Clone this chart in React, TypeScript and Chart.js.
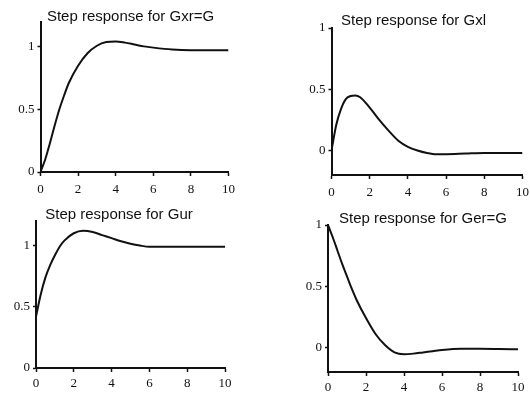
import React, { useEffect, useRef } from 'react';
import { Chart, registerables } from 'chart.js';

Chart.register(...registerables);

// ---- data ----
const timeAxis = [0, 0.25, 0.5, 0.75, 1, 1.25, 1.5, 2, 2.5, 3, 3.5, 4, 4.5, 5, 5.5, 6, 7, 8, 9, 10];
const gxrValues = [0, 0.1, 0.23, 0.37, 0.5, 0.61, 0.71, 0.85, 0.95, 1.01, 1.04, 1.045, 1.035, 1.02, 1.005, 0.995, 0.98, 0.975, 0.975, 0.975];
const gxlValues = [0, 0.21, 0.34, 0.42, 0.445, 0.45, 0.435, 0.35, 0.25, 0.16, 0.08, 0.03, 0.0, -0.02, -0.03, -0.03, -0.025, -0.02, -0.02, -0.02];
const gurValues = [0.42, 0.6, 0.74, 0.84, 0.92, 0.99, 1.04, 1.1, 1.12, 1.11, 1.085, 1.06, 1.035, 1.015, 1.0, 0.99, 0.99, 0.99, 0.99, 0.99];
const gerValues = [1, 0.9, 0.79, 0.68, 0.58, 0.48, 0.39, 0.24, 0.11, 0.02, -0.04, -0.055, -0.05, -0.04, -0.03, -0.02, -0.01, -0.01, -0.012, -0.015];

const xTickValues = [0, 2, 4, 6, 8, 10];
const yTickValues = [0, 0.5, 1];

const titleGxr = 'Step response for Gxr=G';
const titleGxl = 'Step response for Gxl';
const titleGur = 'Step response for Gur';
const titleGer = 'Step response for Ger=G';

// ---- layout (page coordinates) ----
type PanelCfg = {
  title: string;
  values: number[];
  yMin: number;
  yMax: number;
  top: number; bottom: number;
  L: number; R: number; T: number; B: number;
  tx: number; ty: number;
  xPad: number; xLh: number;
  fullTitle: boolean;
};

const panels: PanelCfg[] = [
  { title: titleGxr, values: gxrValues, yMin: 0, yMax: 1.2, top: 0, bottom: 200, L: 40, R: 228, T: 22, B: 172, tx: 130, ty: 16.5, xPad: 8, xLh: 11, fullTitle: true },
  { title: titleGxl, values: gxlValues, yMin: -0.2, yMax: 1, top: 0, bottom: 200, L: 331, R: 522, T: 28, B: 175, tx: 413, ty: 21, xPad: 7, xLh: 13, fullTitle: true },
  { title: titleGur, values: gurValues, yMin: 0, yMax: 1.2, top: 200, bottom: 397, L: 36, R: 225, T: 221, B: 368, tx: 119, ty: 214.5, xPad: 5.5, xLh: 13, fullTitle: true },
  { title: titleGer, values: gerValues, yMin: -0.2, yMax: 1, top: 200, bottom: 397, L: 328, R: 518, T: 225, B: 372, tx: 423, ty: 219, xPad: 5, xLh: 13, fullTitle: false },
];

const TITLE_LH = 12;
const TICK_FONT = 13;

function Panel({ cfg }: { cfg: PanelCfg }) {
  const ref = useRef<HTMLCanvasElement | null>(null);

  // geometry
  let cl: number, W: number, padR: number;
  if (cfg.fullTitle) {
    const rb = TICK_FONT / 2 + cfg.xPad; // right overflow created by the last x label
    cl = 2 * cfg.tx - cfg.R - rb;
    W = cfg.R + rb - cl;
    padR = 0;
  } else {
    cl = cfg.L - 26;
    padR = 14;
    W = cfg.R + padR - cl;
  }
  const H = cfg.bottom - cfg.top;

  useEffect(() => {
    if (!ref.current) return;
    const Lc = cfg.L - cl;
    const Tc = cfg.T - cfg.top;
    const Bc = cfg.B - cfg.top;
    const tyc = cfg.ty - cfg.top;
    const yW = Lc;
    const xH = H - Bc;
    const tPadTop = tyc - TITLE_LH / 2;
    const tPadBottom = Tc - TITLE_LH - tPadTop;

    const points = timeAxis.map((t, i) => ({ x: t, y: cfg.values[i] }));

    const chart = new Chart(ref.current, {
      type: 'line',
      data: {
        datasets: [
          {
            data: points,
            borderColor: '#111',
            borderWidth: 2,
            pointRadius: 0,
            cubicInterpolationMode: 'monotone',
            fill: false,
          },
        ],
      },
      options: {
        animation: false,
        responsive: false,
        events: [],
        layout: { padding: { left: 0, right: padR, top: 0, bottom: 0 } },
        plugins: {
          legend: { display: false },
          tooltip: { enabled: false },
          title: {
            display: true,
            fullSize: cfg.fullTitle,
            text: cfg.title,
            color: '#111',
            font: { family: "'Liberation Sans', Arial, sans-serif", size: 15, weight: 'normal', lineHeight: TITLE_LH / 15 },
            padding: { top: tPadTop, bottom: tPadBottom },
          },
        },
        scales: {
          x: {
            type: 'linear',
            min: 0,
            max: 10,
            afterBuildTicks: (scale: any) => {
              scale.ticks = xTickValues.map((v) => ({ value: v }));
            },
            afterFit: (scale: any) => {
              scale.height = xH;
            },
            ticks: {
              color: '#111',
              font: { family: "'Liberation Serif', 'Times New Roman', serif", size: TICK_FONT, lineHeight: cfg.xLh / TICK_FONT },
              padding: cfg.xPad,
              autoSkip: false,
              maxRotation: 0,
              callback: (v: any) => String(v),
            },
            grid: {
              drawOnChartArea: false,
              drawTicks: true,
              tickLength: 4,
              tickWidth: 1.5,
              tickColor: '#111',
            },
            border: { display: true, color: '#111', width: 2 },
          },
          y: {
            type: 'linear',
            min: cfg.yMin,
            max: cfg.yMax,
            afterBuildTicks: (scale: any) => {
              scale.ticks = yTickValues.map((v) => ({ value: v }));
            },
            afterFit: (scale: any) => {
              scale.width = yW;
            },
            ticks: {
              color: '#111',
              font: { family: "'Liberation Serif', 'Times New Roman', serif", size: TICK_FONT, lineHeight: 1 },
              padding: 3,
              callback: (v: any) => String(v),
            },
            grid: {
              drawOnChartArea: false,
              drawTicks: true,
              tickLength: 3,
              tickWidth: 1.5,
              tickColor: '#111',
            },
            border: { display: true, color: '#111', width: 2 },
          },
        },
      },
    } as any);
    return () => chart.destroy();
  }, [cfg]);

  return (
    <canvas
      ref={ref}
      width={Math.round(W)}
      height={H}
      style={{ position: 'absolute', left: cl, top: cfg.top, width: Math.round(W), height: H, display: 'block' }}
    />
  );
}

export default function App() {
  return (
    <div style={{ position: 'absolute', left: 0, top: 0, width: 530, height: 397, background: '#fff', overflow: 'hidden' }}>
      {panels.map((p) => (
        <Panel key={p.title} cfg={p} />
      ))}
    </div>
  );
}
